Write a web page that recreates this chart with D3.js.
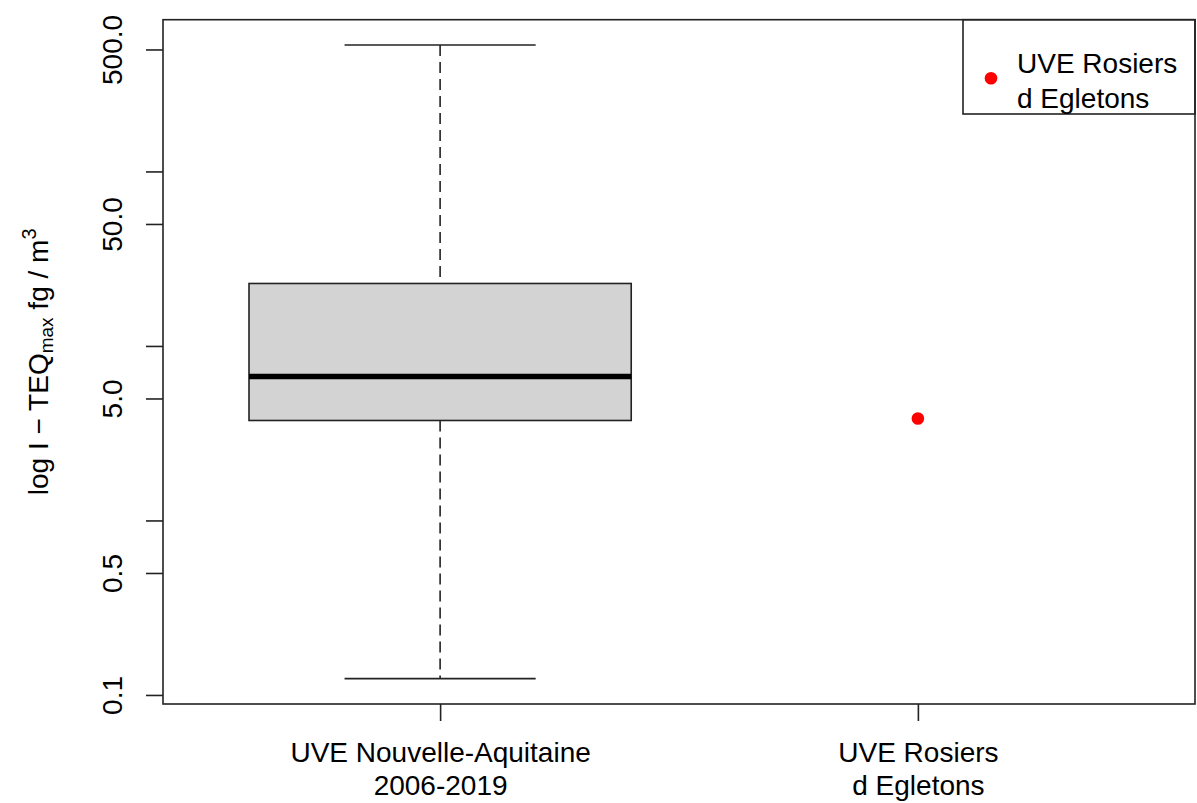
<!DOCTYPE html>
<html>
<head>
  <meta charset="utf-8">
  <title>I-TEQ boxplot</title>
  <style>
    body{
      margin: 0;
      padding: 0;
      background-color: #fff;
    }
    svg text{
      font-family: "Liberation Sans", Arial, sans-serif;
      font-size: 28px;
      fill: #000;
    }
    .frame{
      fill: none;
      stroke: #222;
      stroke-width: 1.6;
    }
  </style>
</head>
<body>
<svg class="chart"></svg>

<script src="https://d3js.org/d3.v7.min.js"></script>
<script>

// values
var categories = [["UVE Nouvelle-Aquitaine", "2006-2019"], ["UVE Rosiers", "d Egletons"]];
var whiskerLow = [0.124];
var q1 = [3.74];
var median = [6.69];
var q3 = [22.8];
var whiskerHigh = [530];
var pointValues = [3.84];   // UVE Rosiers d Egletons
var yTicks = [0.1, 0.5, 1, 5, 10, 50, 100, 500];
var yTickLabels = ["0.1", "0.5", "", "5.0", "", "50.0", "", "500.0"];
var legendLabel = ["UVE Rosiers", "d Egletons"];

var margin = {top: 19.7, right: 2, bottom: 99, left: 163},
    width = 1197 - margin.left - margin.right,
    height = 803 - margin.top - margin.bottom;

var svg = d3.select(".chart")
    .attr("width", width + margin.left + margin.right)
    .attr("height", height + margin.top + margin.bottom)
  .append("g")
    .attr("transform", "translate(" + margin.left + "," + margin.top + ")");

// R style 4% extension of ranges
var allVals = whiskerLow.concat(whiskerHigh, pointValues);
var lo = Math.log10(d3.min(allVals)), hi = Math.log10(d3.max(allVals));
var pad = (hi - lo) * 0.04;
var y = d3.scaleLog()
    .domain([Math.pow(10, lo - pad), Math.pow(10, hi + pad)])
    .range([height, 0]);

var x = d3.scaleLinear()
    .domain([0.5 - 0.08, categories.length + 0.5 + 0.08])
    .range([0, width]);

// y axis
var yAxis = svg.append("g")
    .call(d3.axisLeft(y).tickValues(yTicks).tickSize(17).tickFormat(function(d, i) { return yTickLabels[i]; }));
yAxis.select(".domain").remove();
yAxis.selectAll("line").attr("stroke", "#222").attr("stroke-width", 1.6);
yAxis.selectAll("text")
    .attr("x", 0).attr("y", -41).attr("dy", null)
    .attr("transform", "rotate(-90)")
    .attr("text-anchor", "middle")
    .attr("fill", "#000")
    .style("font-size", "28px")
    .style("font-family", "'Liberation Sans', Arial, sans-serif");

// x axis
var xAxis = svg.append("g")
    .attr("transform", "translate(0," + height + ")")
    .call(d3.axisBottom(x).tickValues([1, 2]).tickSize(17).tickFormat(""));
xAxis.select(".domain").remove();
xAxis.selectAll("line").attr("stroke", "#222").attr("stroke-width", 1.6);
xAxis.selectAll(".tick").each(function(d, i) {
  var t = d3.select(this).append("text")
      .attr("text-anchor", "middle")
      .style("font-size", "28px")
      .style("font-family", "'Liberation Sans', Arial, sans-serif");
  t.append("tspan").attr("x", 0).attr("y", 57.7).text(categories[i][0]);
  t.append("tspan").attr("x", 0).attr("y", 91).text(categories[i][1]);
});

// box
var bw = 0.4;
var boxes = svg.selectAll(".box")
    .data(median)
    .enter().append("g")
    .attr("class", "box");

boxes.append("line")
    .attr("x1", function(d, i) { return x(i + 1); })
    .attr("x2", function(d, i) { return x(i + 1); })
    .attr("y1", function(d, i) { return y(whiskerHigh[i]); })
    .attr("y2", function(d, i) { return y(q3[i]); })
    .attr("stroke", "#222").attr("stroke-width", 1.6).attr("stroke-dasharray", "11,6");
boxes.append("line")
    .attr("x1", function(d, i) { return x(i + 1); })
    .attr("x2", function(d, i) { return x(i + 1); })
    .attr("y1", function(d, i) { return y(q1[i]); })
    .attr("y2", function(d, i) { return y(whiskerLow[i]); })
    .attr("stroke", "#222").attr("stroke-width", 1.6).attr("stroke-dasharray", "11,6");
boxes.append("line")
    .attr("x1", function(d, i) { return x(i + 1 - bw / 2); })
    .attr("x2", function(d, i) { return x(i + 1 + bw / 2); })
    .attr("y1", function(d, i) { return y(whiskerHigh[i]); })
    .attr("y2", function(d, i) { return y(whiskerHigh[i]); })
    .attr("stroke", "#222").attr("stroke-width", 1.6);
boxes.append("line")
    .attr("x1", function(d, i) { return x(i + 1 - bw / 2); })
    .attr("x2", function(d, i) { return x(i + 1 + bw / 2); })
    .attr("y1", function(d, i) { return y(whiskerLow[i]); })
    .attr("y2", function(d, i) { return y(whiskerLow[i]); })
    .attr("stroke", "#222").attr("stroke-width", 1.6);
boxes.append("rect")
    .attr("x", function(d, i) { return x(i + 1 - bw); })
    .attr("width", x(1 + bw) - x(1 - bw))
    .attr("y", function(d, i) { return y(q3[i]); })
    .attr("height", function(d, i) { return y(q1[i]) - y(q3[i]); })
    .attr("fill", "#d3d3d3").attr("stroke", "#222").attr("stroke-width", 1.6);
boxes.append("line")
    .attr("x1", function(d, i) { return x(i + 1 - bw); })
    .attr("x2", function(d, i) { return x(i + 1 + bw); })
    .attr("y1", function(d) { return y(d); })
    .attr("y2", function(d) { return y(d); })
    .attr("stroke", "#000").attr("stroke-width", 5.5);

// red point for the second site
svg.selectAll(".pt")
    .data(pointValues)
    .enter().append("circle")
    .attr("class", "pt")
    .attr("cx", x(2))
    .attr("cy", function(d) { return y(d); })
    .attr("r", 6.3)
    .attr("fill", "#ff0000");

// frame
svg.append("rect").attr("class", "frame")
    .attr("width", width).attr("height", height);

// legend, top right
var lw = 232, lh = 94.3;
var legend = svg.append("g").attr("transform", "translate(" + (width - lw) + ",0)");
legend.append("rect").attr("class", "frame").attr("width", lw).attr("height", lh);
legend.append("circle").attr("cx", 28).attr("cy", 58.5).attr("r", 6.3).attr("fill", "#ff0000");
legend.append("text").attr("x", 54).attr("y", 53.5).text(legendLabel[0]);
legend.append("text").attr("x", 54).attr("y", 88.5).text(legendLabel[1]);

// y title
var yt = d3.select(".chart").append("text")
    .attr("transform", "translate(48," + (margin.top + height / 2) + ") rotate(-90)")
    .attr("text-anchor", "middle");
yt.append("tspan").text("log I \u2212 TEQ");
yt.append("tspan").attr("baseline-shift", "-25%").style("font-size", "19px").text("max");
yt.append("tspan").text(" fg / m");
yt.append("tspan").attr("baseline-shift", "60%").style("font-size", "20px").text("3");

</script>
</body>
</html>
